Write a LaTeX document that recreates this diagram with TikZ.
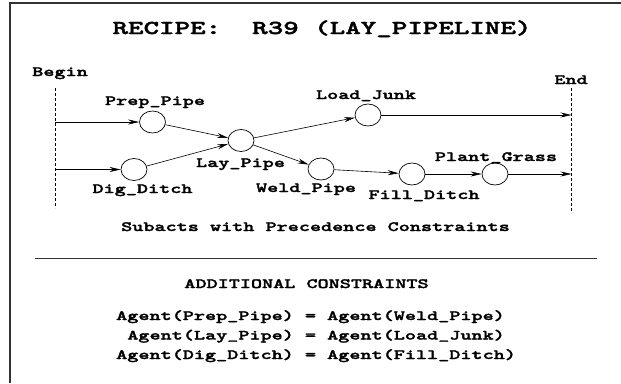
\documentclass[tikz,border=0pt]{standalone}
\usepackage{fontspec}
\setmonofont{lmmono10-regular.otf}[BoldFont=lmmonolt10-bold.otf, BoldFeatures={FakeBold=2}, FakeStretch=1.5]
\usetikzlibrary{shapes.geometric,arrows.meta}

\tikzstyle{act} = [draw, ellipse, minimum width=26pt, minimum height=22pt, inner sep=0pt, line width=0.7pt]
\tikzstyle{act-label} = [anchor=base, inner sep=0pt, font=\ttfamily\bfseries\fontsize{14.1}{17}\selectfont]
\tikzstyle{heading} = [act-label, font=\ttfamily\bfseries\fontsize{19.7}{24}\selectfont]
\tikzstyle{flow} = [-{Stealth[length=11pt,width=5pt]}, line width=0.6pt]
\tikzstyle{limit} = [dash pattern=on 3pt off 2pt, line width=0.6pt]

\begin{document}
\begin{tikzpicture}[x=1pt, y=-1pt]
	\useasboundingbox (0,0) rectangle (621,383);
	\draw[line width=1.2pt, black!80] (10,383) -- (10,3) -- (621,3);

	\node [heading] (title) at (322,34) {RECIPE:~~R39 (LAY\_PIPELINE)};

	% begin and end of the recipe
	\node [act-label] (begin) at (60,76) {Begin};
	\node [act-label] (end) at (571,84) {End};
	\coordinate (begin-top) at (55,88);
	\coordinate (begin-bot) at (55,208);
	\coordinate (end-top) at (571.5,88);
	\coordinate (end-bot) at (571.5,213);
	\draw[limit] (begin-top) -- (begin-bot);
	\draw[limit] (end-top) -- (end-bot);

	% subacts
	\node [act] (prep) at (152.5,122) {};
	\node [act] (dig) at (134,169.5) {};
	\node [act] (lay) at (241,140.5) {};
	\node [act] (weld) at (321,169) {};
	\node [act] (junk) at (368,115) {};
	\node [act] (fill) at (412,174) {};
	\node [act] (grass) at (495,174) {};

	\node [act-label] (prep-label) at (155,105) {Prep\_Pipe};
	\node [act-label] (dig-label) at (142.5,193) {Dig\_Ditch};
	\node [act-label] (lay-label) at (240.5,167) {Lay\_Pipe};
	\node [act-label] (weld-label) at (306,192) {Weld\_Pipe};
	\node [act-label] (junk-label) at (366,99) {Load\_Junk};
	\node [act-label] (fill-label) at (424,199) {Fill\_Ditch};
	\node [act-label] (grass-label) at (496,161) {Plant\_Grass};

	\coordinate (begin-prep) at (55,122);
	\coordinate (begin-dig) at (55,169.5);
	\coordinate (end-junk) at (571.5,115);
	\coordinate (end-grass) at (571.5,174);

	\draw[flow] (begin-prep) -- (prep);
	\draw[flow] (begin-dig) -- (dig);
	\foreach \a/\b in {prep/lay, dig/lay, lay/junk, lay/weld, weld/fill, fill/grass}{%
		\draw[flow] (\a) -- (\b);}
	\draw[flow] (junk) -- (end-junk);
	\draw[flow] (grass) -- (end-grass);

	\node [act-label] (caption) at (315.5,231) {Subacts with Precedence Constraints};
	\draw[line width=0.8pt, black!80] (35,258.5) -- (597,258.5);

	% additional constraints
	\node [act-label] (extra) at (306.5,288) {ADDITIONAL CONSTRAINTS};
	\node [act-label, anchor=base west] (agent-1) at (116,320) {Agent(Prep\_Pipe) = Agent(Weld\_Pipe)};
	\node [act-label, anchor=base west] (agent-2) at (116,339.5) {~Agent(Lay\_Pipe) = Agent(Load\_Junk)};
	\node [act-label, anchor=base west] (agent-3) at (116,359) {Agent(Dig\_Ditch) = Agent(Fill\_Ditch)};

\end{tikzpicture}
\end{document}
